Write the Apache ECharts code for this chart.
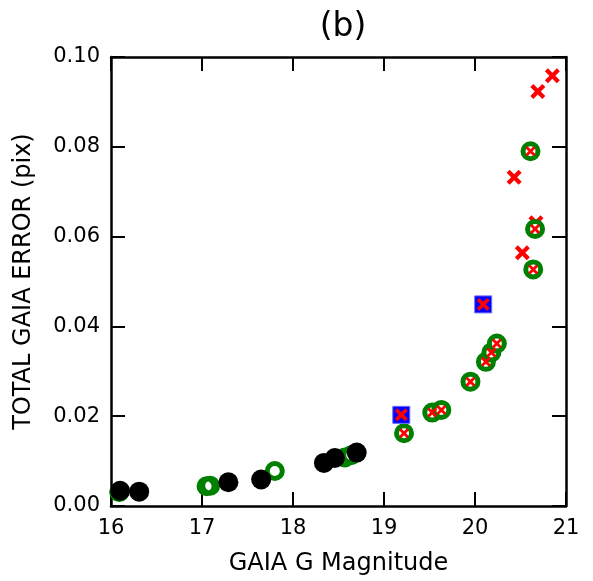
<!DOCTYPE html>
<html>
<head>
<meta charset="utf-8">
<script src="https://cdn.jsdelivr.net/npm/echarts@6/dist/echarts.min.js"></script>
<style>
  html, body { margin: 0; padding: 0; background: #fff; }
  #chart { width: 593px; height: 581px; }
</style>
</head>
<body>
<div id="chart"></div>
<script>
// Axis ticks
const xTicks = [16, 17, 18, 19, 20, 21];
const yTicks = [0.00, 0.02, 0.04, 0.06, 0.08, 0.10];

// Black filled circles [G mag, error]
const blackDots = [
  [16.10, 0.0034], [16.31, 0.0032], [17.29, 0.0053], [17.65, 0.0059],
  [18.34, 0.0096], [18.46, 0.0107], [18.70, 0.0119]
];

// Green open circles with no cross
const greenOpen = [
  [16.09, 0.0031], [17.05, 0.0044], [17.09, 0.0045], [17.80, 0.0078],
  [18.57, 0.0108], [18.64, 0.0113]
];

// Green open circles that also carry a red cross
const greenCrossed = [
  [19.22, 0.0162], [19.53, 0.0208], [19.63, 0.0214], [19.95, 0.0277],
  [20.12, 0.0321], [20.18, 0.0342], [20.24, 0.0362],
  [20.61, 0.0790], [20.66, 0.0617], [20.64, 0.0527]
];

// Blue squares (with red cross)
const blueBoxes = [
  [19.19, 0.0203], [20.09, 0.0449]
];

// Red crosses on their own
const redCrosses = [
  [20.43, 0.0732], [20.52, 0.0564], [20.69, 0.0923], [20.85, 0.0958],
  [20.67, 0.0631]
];

const CROSS = 'path://M0,4 L4,0 L10,6 L16,0 L20,4 L14,10 L20,16 L16,20 L10,14 L4,20 L0,16 L6,10 Z';
const FONT = 'DejaVu Sans';

const chart = echarts.init(document.getElementById('chart'), null, { renderer: 'canvas' });

const tickStyle = { show: true, inside: true, length: 14, lineStyle: { color: '#000', width: 2 } };
const lineStyle = { show: true, onZero: false, lineStyle: { color: '#000', width: 2.5 } };

chart.setOption({
  animation: false,
  backgroundColor: '#fff',
  title: {
    text: '(b)',
    left: 338,
    top: 6,
    textAlign: 'center',
    textStyle: { fontFamily: FONT, fontSize: 33, fontWeight: 'normal', color: '#000' }
  },
  grid: { left: 111, right: 27, top: 57, bottom: 74 },
  xAxis: [
    {
      type: 'value', position: 'bottom', min: xTicks[0], max: xTicks[xTicks.length - 1], interval: 1,
      name: 'GAIA G Magnitude', nameLocation: 'middle', nameGap: 46,
      nameTextStyle: { fontFamily: FONT, fontSize: 24, color: '#000' },
      axisLine: lineStyle, axisTick: tickStyle, splitLine: { show: false },
      axisLabel: { fontFamily: FONT, fontSize: 21, color: '#000', margin: 12,
        formatter: v => xTicks.includes(v) ? String(v) : '' }
    },
    {
      type: 'value', position: 'top', min: xTicks[0], max: xTicks[xTicks.length - 1], interval: 1,
      axisLine: lineStyle, axisTick: tickStyle, splitLine: { show: false },
      axisLabel: { show: false }
    }
  ],
  yAxis: [
    {
      type: 'value', position: 'left', min: yTicks[0], max: yTicks[yTicks.length - 1], interval: 0.02,
      name: 'TOTAL GAIA ERROR (pix)', nameLocation: 'middle', nameGap: 75, nameRotate: 90,
      nameTextStyle: { fontFamily: FONT, fontSize: 24, color: '#000' },
      axisLine: lineStyle, axisTick: tickStyle, splitLine: { show: false },
      axisLabel: { fontFamily: FONT, fontSize: 21, color: '#000', margin: 11,
        formatter: v => v.toFixed(2) }
    },
    {
      type: 'value', position: 'right', min: yTicks[0], max: yTicks[yTicks.length - 1], interval: 0.02,
      axisLine: lineStyle, axisTick: tickStyle, splitLine: { show: false },
      axisLabel: { show: false }
    }
  ],
  series: [
    {
      name: 'red-solo', type: 'scatter', data: redCrosses, symbol: CROSS, symbolSize: 15,
      itemStyle: { color: '#ff0000', opacity: 1 }, z: 2
    },
    {
      name: 'green-open', type: 'scatter', data: greenOpen, symbol: 'circle', symbolSize: 15,
      itemStyle: { color: 'rgba(255,255,255,0)', borderColor: '#008000', borderWidth: 5, opacity: 1 }, z: 3
    },
    {
      name: 'green-crossed', type: 'scatter', data: greenCrossed, symbol: 'circle', symbolSize: 15,
      itemStyle: { color: '#ffffff', borderColor: '#008000', borderWidth: 5, opacity: 1 }, z: 3
    },
    {
      name: 'black', type: 'scatter', data: blackDots, symbol: 'circle', symbolSize: 20,
      itemStyle: { color: '#000000', opacity: 1 }, z: 4
    },
    {
      name: 'blue', type: 'scatter', data: blueBoxes, symbol: 'rect', symbolSize: 17,
      itemStyle: { color: '#0000ff', borderColor: '#6a6aff', borderWidth: 1, opacity: 1 }, z: 5
    },
    {
      name: 'red-in-ring', type: 'scatter', data: greenCrossed, symbol: CROSS, symbolSize: 10,
      itemStyle: { color: '#ff0000', opacity: 1 }, z: 6
    },
    {
      name: 'red-in-box', type: 'scatter', data: blueBoxes, symbol: CROSS, symbolSize: 13,
      itemStyle: { color: '#ff0000', opacity: 1 }, z: 6
    }
  ]
});
</script>
</body>
</html>
